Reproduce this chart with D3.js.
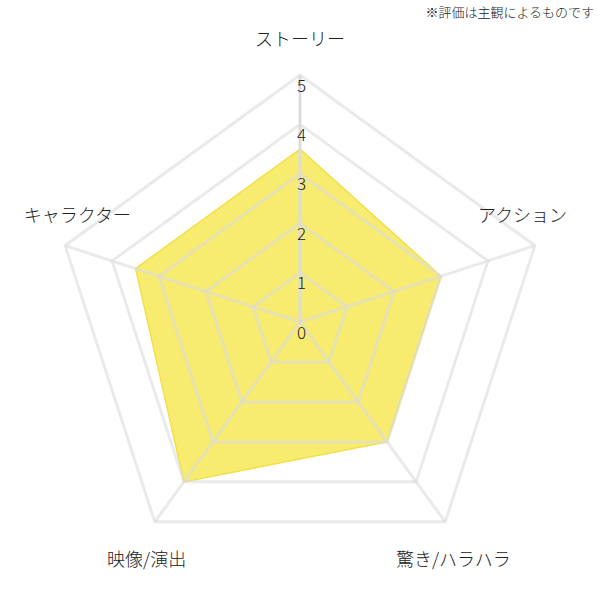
<!DOCTYPE html>
<html>
<head>
<meta charset="utf-8">
<script src="https://cdn.jsdelivr.net/npm/d3@7"></script>
<style>
  html, body { margin: 0; padding: 0; background: #fff; }
  svg { display: block; font-family: "Noto Sans CJK JP", "Noto Sans", sans-serif; font-weight: 300; }
</style>
</head>
<body>
<div id="chart"></div>
<script>
// Data
const axes = ["ストーリー", "アクション", "驚き/ハラハラ", "映像/演出", "キャラクター"];
const scores = [3.5, 3, 3, 4, 3.5];
const ticks = [0, 1, 2, 3, 4, 5];
const note = "※評価は主観によるものです";

// Size
const w = 600, h = 600;
const cx = 300, cy = 322;
const R = 247;

const svg = d3.select("#chart")
    .append("svg")
    .attr("width", w)
    .attr("height", h);

// Scales
const r = d3.scaleLinear().domain([0, d3.max(ticks)]).range([0, R]);
const angle = d3.scaleLinear().domain([0, axes.length]).range([0, 2 * Math.PI]);

const g = svg.append("g").attr("transform", `translate(${cx},${cy})`);

// Point helper (angle 0 = up, clockwise)
function pt(i, v) {
    const a = angle(i);
    return [Math.sin(a) * r(v), -Math.cos(a) * r(v)];
}

const radial = d3.lineRadial()
    .angle((d, i) => angle(i))
    .radius((d) => r(d))
    .curve(d3.curveLinearClosed);

// Data area
g.append("path")
    .datum(scores)
    .attr("d", radial)
    .attr("fill", "#f0dc00")
    .attr("fill-opacity", 0.56)
    .attr("stroke", "#f2e04a")
    .attr("stroke-width", 1.5);

// Grid rings (drawn over the fill, semi-transparent)
g.selectAll(".ring")
    .data(ticks.filter((t) => t > 0))
    .join("path")
    .attr("class", "ring")
    .attr("d", (t) => radial(axes.map(() => t)))
    .attr("fill", "none")
    .attr("stroke", "rgba(220,220,220,0.6)")
    .attr("stroke-width", 3);

// Spokes
g.selectAll(".spoke")
    .data(axes)
    .join("line")
    .attr("class", "spoke")
    .attr("x1", 0)
    .attr("y1", 0)
    .attr("x2", (d, i) => pt(i, d3.max(ticks))[0])
    .attr("y2", (d, i) => pt(i, d3.max(ticks))[1])
    .attr("stroke", (d, i) => i === 0 ? "#dcdcdc" : "rgba(220,220,220,0.6)")
    .attr("stroke-width", 3);

// Tick labels
g.selectAll(".tick")
    .data(ticks)
    .join("text")
    .attr("class", "tick")
    .attr("x", 1.5)
    .attr("y", (t) => -r(t) + 9)
    .attr("text-anchor", "middle")
    .attr("dominant-baseline", "central")
    .attr("font-size", 17)
    .attr("fill", "#222")
    .text((t) => t);

// Axis labels
g.selectAll(".label")
    .data(axes)
    .join("text")
    .attr("class", "label")
    .attr("x", (d, i) => {
        const a = angle(i);
        const p = pt(i, d3.max(ticks));
        return p[0] + Math.sin(a) * (Math.cos(a) < 0 ? 14 : -13);
    })
    .attr("y", (d, i) => {
        const a = angle(i);
        const p = pt(i, d3.max(ticks));
        return p[1] + (Math.cos(a) > 0 ? -(30 + 7 * Math.cos(a)) : 36);
    })
    .attr("text-anchor", "middle")
    .attr("dominant-baseline", "central")
    .attr("font-size", 18)
    .attr("fill", "#222")
    .text((d) => d);

// Note
svg.append("text")
    .attr("x", 594)
    .attr("y", 11)
    .attr("text-anchor", "end")
    .attr("dominant-baseline", "central")
    .attr("font-size", 13)
    .attr("fill", "#222")
    .text(note);
</script>
</body>
</html>
